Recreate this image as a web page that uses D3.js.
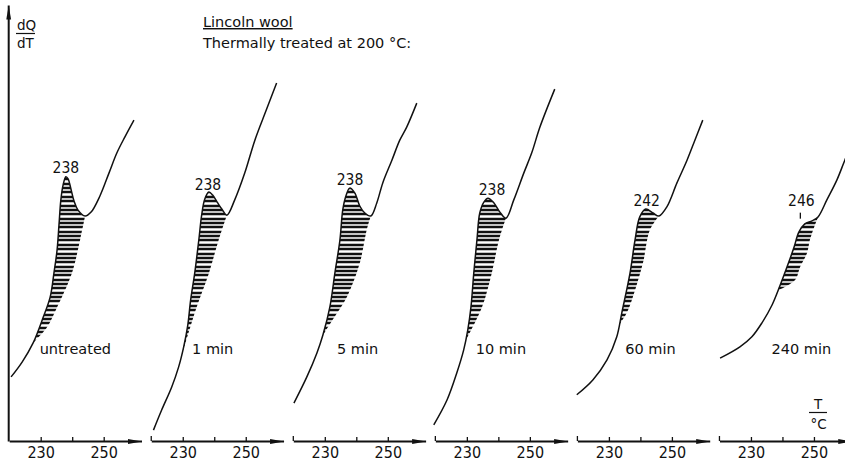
<!DOCTYPE html>
<html>
<head>
<meta charset="utf-8">
<script src="https://cdn.jsdelivr.net/npm/d3@7"></script>
<style>
  body { margin: 0; background: #fff; }
  text { font-family: "DejaVu Sans", sans-serif; fill: #111; }
  .num { font-family: "Liberation Sans Narrow", "DejaVu Sans Condensed", "DejaVu Sans", sans-serif; }
</style>
</head>
<body>
<div></div>
<script>
// Lincoln wool, DSC curves after heat treatment at 200 °C
const treatments = ["untreated", "1 min", "5 min", "10 min", "60 min", "240 min"];
const peakTemps = [238, 238, 238, 238, 242, 246];
const axisTicks = [230, 240, 250];
const axisTickLabels = ["230", "", "250"];

// [T in °C, dQ/dT in arbitrary units]
const untreatedCurve = [[220.6,14.7],[224.1,18.1],[227.6,22.5],[230.7,28.2],[233.0,33.0],[234.2,38.5],[235.2,43.8],[235.8,49.5],[236.4,55.3],[237.1,58.7],[238.0,60.6],[238.7,60.1],[239.6,57.8],[240.6,55.0],[241.8,53.0],[244.1,51.6],[246.0,52.5],[248.8,56.2],[251.7,61.5],[254.2,66.1],[256.7,69.7],[259.6,73.6]];
const min1Curve = [[220.7,2.5],[223.3,7.1],[226.5,12.4],[228.7,17.0],[230.3,21.6],[231.6,26.6],[232.5,32.3],[233.8,38.5],[235.1,46.1],[236.0,51.8],[237.0,55.5],[238.3,57.1],[239.5,56.4],[241.1,54.6],[242.4,53.2],[244.0,51.8],[246.5,55.3],[249.7,61.5],[252.9,69.0],[256.3,75.5],[259.8,82.1]];
const min5Curve = [[220.2,8.7],[224.3,14.7],[227.5,20.2],[229.4,24.3],[231.6,30.7],[233.2,38.5],[234.8,46.1],[235.7,53.0],[236.7,56.2],[237.9,58.0],[239.5,56.9],[241.1,53.9],[242.7,52.3],[244.6,51.6],[246.5,54.6],[248.4,59.2],[251.3,64.4],[253.8,69.0],[256.0,72.0],[259.2,77.5]];
const min10Curve = [[219.5,3.7],[223.7,9.4],[226.8,15.6],[229.0,20.9],[230.3,25.5],[231.3,30.7],[232.2,38.5],[233.2,46.1],[234.1,52.3],[235.4,54.8],[236.7,55.7],[238.6,54.6],[240.5,52.5],[242.4,51.1],[244.9,55.3],[248.1,61.5],[250.6,66.1],[253.2,72.0],[257.9,80.7]];
const min60Curve = [[219.8,10.6],[224.9,14.0],[229.4,18.6],[232.5,23.9],[234.1,29.4],[236.7,38.5],[238.3,46.1],[239.8,51.4],[241.7,53.2],[244.0,52.3],[245.9,51.6],[248.4,53.7],[251.6,59.2],[254.8,64.4],[257.3,69.0],[259.8,73.6]];
const min240Curve = [[220.2,19.0],[226.5,21.6],[230.3,23.9],[233.5,27.1],[236.7,31.2],[239.2,35.6],[241.7,40.4],[243.7,44.5],[245.2,47.9],[247.1,49.8],[249.4,50.5],[251.3,51.4],[254.1,55.3],[257.3,59.9],[259.8,64.4],[262.1,68.3]];

// baselines closing the hatched peak areas
const untreatedBase = [[227.6,22.5],[232.0,26.1],[235.2,30.7],[239.9,38.5],[242.5,46.1],[244.1,51.6]];
const min1Base = [[230.0,20.5],[234.4,30.7],[238.3,38.5],[241.4,46.1],[244.0,51.8]];
const min5Base = [[229.4,24.3],[232.5,27.8],[237.0,33.0],[241.1,40.8],[243.3,48.4],[244.6,51.6]];
const min10Base = [[229.7,23.2],[234.8,30.7],[237.9,38.5],[240.2,46.1],[242.4,51.1]];
const min60Base = [[233.2,26.6],[235.7,29.4],[237.6,33.0],[240.8,40.8],[243.0,48.4],[245.9,51.6]];
const min240Base = [[238.9,34.6],[244.0,36.9],[245.6,39.9],[247.8,43.1],[248.7,46.1],[250.0,48.9],[251.3,51.4]];

const curves = [untreatedCurve, min1Curve, min5Curve, min10Curve, min60Curve, min240Curve];
const baselines = [untreatedBase, min1Base, min5Base, min10Base, min60Base, min240Base];

// layout
const chartWidth = 845;
const chartHeight = 467;
const pxPerDegree = 3.15;
const tDomain = [220, 262];
const captionAt = [241, 239.5, 240.4, 240.8, 243.2, 246];
const labelLift = [4, 4, 3, 6, 4, 23];

const x = d3.scaleLinear().domain(tDomain).range([0, (tDomain[1] - tDomain[0]) * pxPerDegree]);
const y = d3.scaleLinear().domain([0, 100]).range([441, 5]);
const panelX = d3.scaleBand().domain(treatments).range([9.2, 9.2 + 6 * 142.05]);

const svg = d3.select('div').append('svg').attr('width', chartWidth).attr('height', chartHeight);
const defs = svg.append('defs');
defs.append('marker')
  .attr('id', 'arrow')
  .attr('viewBox', '0 0 14 6')
  .attr('refX', 14).attr('refY', 3)
  .attr('markerWidth', 14).attr('markerHeight', 6)
  .attr('markerUnits', 'userSpaceOnUse')
  .attr('orient', 'auto')
  .append('path').attr('d', 'M0,0.6L14,3L0,5.4Z').attr('fill', '#111');

const line = d3.line().x(d => x(d[0])).y(d => y(d[1])).curve(d3.curveCatmullRom);
const underCurve = d3.area().x(d => x(d[0])).y0(y(0)).y1(d => y(d[1])).curve(d3.curveCatmullRom);
const aboveBase = d3.area().x(d => x(d[0])).y0(d => y(d[1])).y1(y(100)).curve(d3.curveCatmullRom);

treatments.forEach((name, i) => {
  const g = svg.append('g').attr('transform', `translate(${panelX(name)},0)`);
  defs.append('clipPath').attr('id', `under${i}`).append('path').attr('d', underCurve(curves[i]));
  defs.append('clipPath').attr('id', `above${i}`).append('path').attr('d', aboveBase(baselines[i]));

  // hatching between curve and baseline
  g.append('g').attr('clip-path', `url(#under${i})`)
    .append('g').attr('clip-path', `url(#above${i})`)
    .selectAll('line')
    .data(d3.range(0, 100, 1))
    .join('line')
    .attr('x1', x.range()[0]).attr('x2', x.range()[1])
    .attr('y1', d => Math.round(y(d))).attr('y2', d => Math.round(y(d)))
    .attr('stroke', '#111').attr('stroke-width', 2.5);

  g.append('path')
    .attr('d', line(curves[i]))
    .attr('fill', 'none').attr('stroke', '#111').attr('stroke-width', 1.5);

  // peak temperature
  const valueAt = d3.scaleLinear().domain(curves[i].map(d => d[0])).range(curves[i].map(d => d[1]));
  const peakY = y(valueAt(peakTemps[i]));
  g.append('text')
    .attr('class', 'num')
    .attr('x', x(peakTemps[i])).attr('y', peakY - labelLift[i])
    .attr('text-anchor', 'middle').attr('font-size', 15.5)
    .text(peakTemps[i]);
  if (labelLift[i] > 10) {
    g.append('line')
      .attr('x1', x(peakTemps[i]) - 1).attr('x2', x(peakTemps[i]) - 1)
      .attr('y1', peakY - 10).attr('y2', peakY - 16)
      .attr('stroke', '#111').attr('stroke-width', 1.3);
  }

  g.append('text')
    .attr('x', x(captionAt[i])).attr('y', 354)
    .attr('text-anchor', 'middle').attr('font-size', 14.5)
    .text(name);

  const xAxis = d3.axisBottom(x)
    .tickValues(axisTicks)
    .tickSizeInner(-4)
    .tickSizeOuter(0)
    .tickPadding(6)
    .tickFormat((d, k) => axisTickLabels[k]);
  const ax = g.append('g').attr('transform', `translate(0,${y(0)})`).call(xAxis);
  ax.select('.domain').attr('stroke', '#111').attr('stroke-width', 1.8).attr('marker-end', 'url(#arrow)');
  ax.selectAll('.tick line').attr('stroke', '#111').attr('stroke-width', 1.3);
  ax.selectAll('.tick text').attr('class', 'num').attr('font-size', 16).attr('fill', '#111').attr('font-family', null);
  if (i > 0) {
    ax.append('line').attr('x1', x(220)).attr('x2', x(220)).attr('y1', 0).attr('y2', -5)
      .attr('stroke', '#111').attr('stroke-width', 1.3);
  }
});

// dQ/dT axis
const yAxis = d3.axisLeft(y).tickValues([]).tickSizeOuter(0);
const yAx = svg.append('g').attr('transform', `translate(${panelX(treatments[0]) + x(220) - 1},0)`).call(yAxis);
yAx.select('.domain').attr('stroke', '#111').attr('stroke-width', 2).attr('marker-end', 'url(#arrow)');

const yLabel = svg.append('g').attr('font-size', 13.5);
yLabel.append('text').attr('x', 17).attr('y', 30).text('dQ');
yLabel.append('line').attr('x1', 16).attr('x2', 35).attr('y1', 33.5).attr('y2', 33.5).attr('stroke', '#111').attr('stroke-width', 1.2);
yLabel.append('text').attr('x', 17).attr('y', 48).text('dT');

const xLabel = svg.append('g').attr('font-size', 13.5).attr('text-anchor', 'middle');
xLabel.append('text').attr('x', 818).attr('y', 409).text('T');
xLabel.append('line').attr('x1', 809).attr('x2', 827).attr('y1', 412.5).attr('y2', 412.5).attr('stroke', '#111').attr('stroke-width', 1.2);
xLabel.append('text').attr('x', 818.5).attr('y', 429).text('°C');

svg.append('text').attr('x', 203).attr('y', 27).attr('font-size', 14.5)
  .attr('text-decoration', 'underline').text('Lincoln wool');
svg.append('text').attr('x', 203).attr('y', 48).attr('font-size', 14.5)
  .text('Thermally treated at 200 °C:');
</script>
</body>
</html>
